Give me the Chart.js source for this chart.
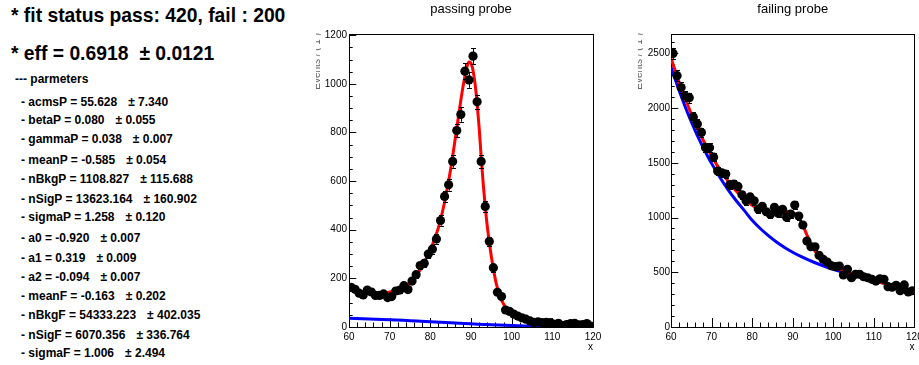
<!DOCTYPE html>
<html><head><meta charset="utf-8">
<script src="https://cdn.jsdelivr.net/npm/chart.js@4.4.1/dist/chart.umd.min.js"></script>
<style>
html,body{margin:0;padding:0;background:#fff}
body{width:919px;height:365px;overflow:hidden;position:relative;font-family:"Liberation Sans",Arial,Helvetica,sans-serif}
.t{position:absolute;white-space:pre;font-weight:bold;color:#000;line-height:1}
.big{font-size:19.3px}
.sm{font-size:12px}
.pm{margin-left:11px}
canvas{position:absolute;top:0}
#c1{left:306px}
#c2{left:612px}
</style>
</head><body>
<div id="info"></div>
<canvas id="c1" width="306" height="365"></canvas>
<canvas id="c2" width="307" height="365"></canvas>
<script>
// ---------------- data ----------------
const headerLine = "* fit status pass: 420, fail : 200";
const effValue = "0.6918", effError = "0.0121";
const paramNames = ["acmsP","betaP","gammaP","meanP","nBkgP","nSigP","sigmaP","a0","a1","a2","meanF","nBkgF","nSigF","sigmaF"];
const paramValues = ["55.628","0.080","0.038","-0.585","1108.827","13623.164","1.258","-0.920","0.319","-0.094","-0.163","54333.223","6070.356","1.006"];
const paramErrors = ["7.340","0.055","0.007","0.054","115.688","160.902","0.120","0.007","0.009","0.007","0.202","402.035","336.764","2.494"];

const binCenters = [60.5,61.5,62.5,63.5,64.5,65.5,66.5,67.5,68.5,69.5,70.5,71.5,72.5,73.5,74.5,75.5,76.5,77.5,78.5,79.5,
  80.5,81.5,82.5,83.5,84.5,85.5,86.5,87.5,88.5,89.5,90.5,91.5,92.5,93.5,94.5,95.5,96.5,97.5,98.5,99.5,
  100.5,101.5,102.5,103.5,104.5,105.5,106.5,107.5,108.5,109.5,110.5,111.5,112.5,113.5,114.5,115.5,116.5,117.5,118.5,119.5];

const passCounts = [163,155,139,132,152,144,130,130,136,121,125,148,152,170,154,189,215,253,262,300,
  320,362,438,537,585,681,808,874,1052,1016,1114,926,681,496,352,244,143,125,70,64,
  53,45,38,32,25,19,21,18,19,18,11,15,6,10,14,15,9,10,14,4];
const passErrors = [13,12,12,11,12,12,11,11,12,11,11,12,12,13,12,14,15,16,16,17,
  18,19,21,23,24,26,28,30,32,32,33,30,26,22,19,16,12,11,8,8,
  7,7,6,6,5,4,5,4,4,4,3,4,2.4,3,4,4,3,3,4,2];

const failCounts = [2500,2296,2188,2110,2094,1918,1854,1778,1641,1638,1552,1425,1409,1398,1300,1306,1284,1208,1153,1188,
  1153,1078,1103,1053,1029,1093,1038,1075,1002,1032,1114,1014,932,785,733,733,655,618,594,560,
  551,557,475,527,450,481,481,459,450,436,420,441,436,368,363,381,331,384,320,331];
const failErrors = [50,48,47,46,46,44,43,42,41,40,39,38,38,37,36,36,36,35,34,34,
  34,33,33,32,32,33,32,33,32,32,33,32,31,28,27,27,26,25,24,24,
  23,24,22,23,21,22,22,21,21,21,20,21,21,19,19,20,18,20,18,18];

const passFitX = [60,61,62,63,64,65,66,67,68,69,70,71,72,73,74,75,76,77,78,79,80,81,82,83,84,85,86,87,88,89,89.5,90,90.5,91,91.5,92,92.5,93,93.5,94,94.5,95,95.5,96,96.5,97,98,99,100,101,102,104,106,108,110,112,115,120];
const passFitY = [162,155,148,143,140,139,138,138,139,141,144,148,153,160,170,183,200,222,250,282,318,360,410,475,555,650,760,875,985,1070,1090,1085,1055,1000,920,820,700,590,495,415,350,290,240,195,160,130,95,72,58,48,40,30,22,17,14,12,10,7];
const passBkgX = [60,65,70,75,80,85,90,95,100,105,110,115,120];
const passBkgY = [36,33,30,26,22,17,13,9,6,4,2,1,0.5];

const failFitX = [60,61,62,63,64,65,66,67,68,69,70,72,74,76,78,80,82,84,86,87,88,89,90,91,92,93,94,95,96,97,98,99,100,102,104,106,108,110,112,114,116,118,120];
const failFitY = [2455,2345,2238,2136,2040,1948,1861,1779,1702,1630,1562,1440,1335,1246,1172,1113,1070,1045,1038,1042,1050,1055,1048,1020,965,885,800,725,668,627,598,575,556,521,494,468,446,424,404,384,365,346,327];
const failBkgX = [60,61,62,63,64,65,66,67,68,69,70,72,74,76,78,80,82,84,86,88,90,92,94,96,98,100,102,104,106,108,110,112,114,116,118,120];
const failBkgY = [2375,2265,2160,2060,1965,1875,1790,1710,1635,1563,1495,1370,1258,1158,1068,975,900,835,777,727,683,645,611,580,553,528,505,484,463,443,423,403,384,365,346,327];

const xTicks = [60,70,80,90,100,110,120];
const passYTicks = [0,200,400,600,800,1000,1200];
const failYTicks = [0,500,1000,1500,2000,2500];

// ---------------- left text panel ----------------
const info = document.getElementById('info');
function addLine(html, cls, left, top){
  const d = document.createElement('div');
  d.className = 't ' + cls; d.style.left = left + 'px'; d.style.top = top + 'px';
  d.innerHTML = html; info.appendChild(d);
}
addLine(headerLine, 'big', 11, 6.4);
addLine('* eff = ' + effValue + '<span class="pm">± ' + effError + '</span>', 'big', 11, 43.8);
addLine('--- parmeters', 'sm', 15, 73.3);
const paramBaselines = [106,124,143,164,183,203,221,242,262,281,300,319,339,357];
paramNames.forEach((n,i)=>{
  addLine('- ' + n + ' = ' + paramValues[i] + '<span class="pm">± ' + paramErrors[i] + '</span>', 'sm', 21, paramBaselines[i] - 10.2);
});

// ---------------- charts ----------------
const FONT = '"Liberation Sans", Arial, Helvetica, sans-serif';

const rootFrame = {
  id: 'rootFrame',
  beforeDatasetsDraw(chart, args, o) {
    const {ctx, chartArea: a, scales: {x, y}} = chart;
    ctx.save();
    ctx.strokeStyle = '#000'; ctx.lineWidth = 1;
    ctx.beginPath();
    for (let v = 60; v <= 120; v += 2) {
      const px = Math.round(x.getPixelForValue(v)) + 0.5;
      const len = (v % 10 === 0) ? 9 : 4.5;
      ctx.moveTo(px, a.bottom); ctx.lineTo(px, a.bottom - len);
    }
    for (let v = 0; v <= y.max; v += o.yMinor) {
      const py = Math.round(y.getPixelForValue(v)) + 0.5;
      const len = (v % o.yMajor === 0) ? 7.3 : 3.7;
      ctx.moveTo(a.left, py); ctx.lineTo(a.left + len, py);
    }
    ctx.stroke();
    ctx.strokeRect(Math.round(a.left) + 0.5, Math.round(a.top) + 0.5, Math.round(a.right - a.left), Math.round(a.bottom - a.top));
    ctx.restore();
    // y-axis title, clipped as in the original pad
    ctx.save();
    ctx.beginPath(); ctx.rect(a.left - 33, 0, 5, chart.height); ctx.clip();
    ctx.translate(a.left - 29, a.top - 1); ctx.rotate(-Math.PI / 2);
    ctx.font = '10px ' + FONT; ctx.textAlign = 'right'; ctx.textBaseline = 'alphabetic';
    ctx.fillStyle = '#666'; ctx.fillText('Events / ( 1 )', 0, 0);
    ctx.restore();
  },
  beforeDatasetDraw(chart, args, o) {
    if (args.index !== 0) return;
    const {ctx, scales: {x, y}} = chart;
    const ds = chart.data.datasets[0];
    ctx.save();
    ctx.strokeStyle = '#000'; ctx.lineWidth = 1;
    ctx.beginPath();
    ds.data.forEach((p, i) => {
      const e = o.errors[i];
      const px = Math.round(x.getPixelForValue(p.x)) + 0.5;
      const y1 = y.getPixelForValue(p.y - e), y2 = y.getPixelForValue(p.y + e);
      ctx.moveTo(px, y1); ctx.lineTo(px, y2);
      ctx.moveTo(px - 2.5, Math.round(y1) + 0.5); ctx.lineTo(px + 2.5, Math.round(y1) + 0.5);
      ctx.moveTo(px - 2.5, Math.round(y2) + 0.5); ctx.lineTo(px + 2.5, Math.round(y2) + 0.5);
    });
    ctx.stroke();
    ctx.restore();
  }
};

function xy(xs, ys) { return xs.map((v, i) => ({x: v, y: ys[i]})); }

function makeChart(id, cfg) {
  return new Chart(document.getElementById(id), {
    type: 'scatter',
    data: {
      datasets: [
        {data: xy(binCenters, cfg.counts), showLine: false, pointRadius: 4.6, pointHoverRadius: 4.6,
         pointBackgroundColor: '#000', pointBorderWidth: 0, pointStyle: 'circle'},
        {data: xy(cfg.fitX, cfg.fitY), showLine: true, pointRadius: 0, borderColor: '#ff0000', borderWidth: 3,
         cubicInterpolationMode: 'monotone', fill: false},
        {data: xy(cfg.bkgX, cfg.bkgY), showLine: true, pointRadius: 0, borderColor: '#0000ff', borderWidth: 3,
         cubicInterpolationMode: 'monotone', fill: false}
      ]
    },
    options: {
      responsive: false, animation: false, devicePixelRatio: 1,
      layout: {padding: {left: 0, right: cfg.padRight, top: 0, bottom: 0}},
      plugins: {
        legend: {display: false}, tooltip: {enabled: false},
        title: {display: true, text: cfg.title, fullSize: false, color: '#000',
                font: {family: FONT, size: 13, weight: 'normal', lineHeight: 1},
                padding: {top: 3, bottom: 18}},
        rootFrame: {errors: cfg.errors, yMajor: cfg.yMajor, yMinor: cfg.yMinor}
      },
      scales: {
        x: {type: 'linear', min: 60, max: 120,
            afterBuildTicks: s => { s.ticks = xTicks.map(v => ({value: v})); },
            ticks: {font: {family: FONT, size: 10}, color: '#000', padding: 4, maxRotation: 0, autoSkip: false,
                    callback: v => String(v)},
            grid: {display: false, drawTicks: false}, border: {display: false},
            title: {display: true, text: 'x', align: 'end', color: '#000', font: {family: FONT, size: 10}, padding: 12},
            afterFit: s => { s.height = 38; s.paddingLeft = 0; s.paddingRight = 0; }},
        y: {type: 'linear', min: 0, max: cfg.yMax,
            afterBuildTicks: s => { s.ticks = cfg.yTicks.map(v => ({value: v})); },
            ticks: {font: {family: FONT, size: 10}, color: '#000', padding: cfg.yPad, autoSkip: false,
                    callback: v => String(v)},
            grid: {display: false, drawTicks: false}, border: {display: false},
            afterFit: s => { s.width = cfg.yWidth; s.paddingTop = 0; s.paddingBottom = 0; }}
      }
    },
    plugins: [rootFrame]
  });
}

makeChart('c1', {title: 'passing probe', counts: passCounts, errors: passErrors,
  fitX: passFitX, fitY: passFitY, bkgX: passBkgX, bkgY: passBkgY,
  yMax: 1205, yTicks: passYTicks, yMajor: 200, yMinor: 50, yWidth: 43, yPad: 2, padRight: 19});
makeChart('c2', {title: 'failing probe', counts: failCounts, errors: failErrors,
  fitX: failFitX, fitY: failFitY, bkgX: failBkgX, bkgY: failBkgY,
  yMax: 2677, yTicks: failYTicks, yMajor: 500, yMinor: 100, yWidth: 59, yPad: 1, padRight: 3});
</script>
</body></html>
